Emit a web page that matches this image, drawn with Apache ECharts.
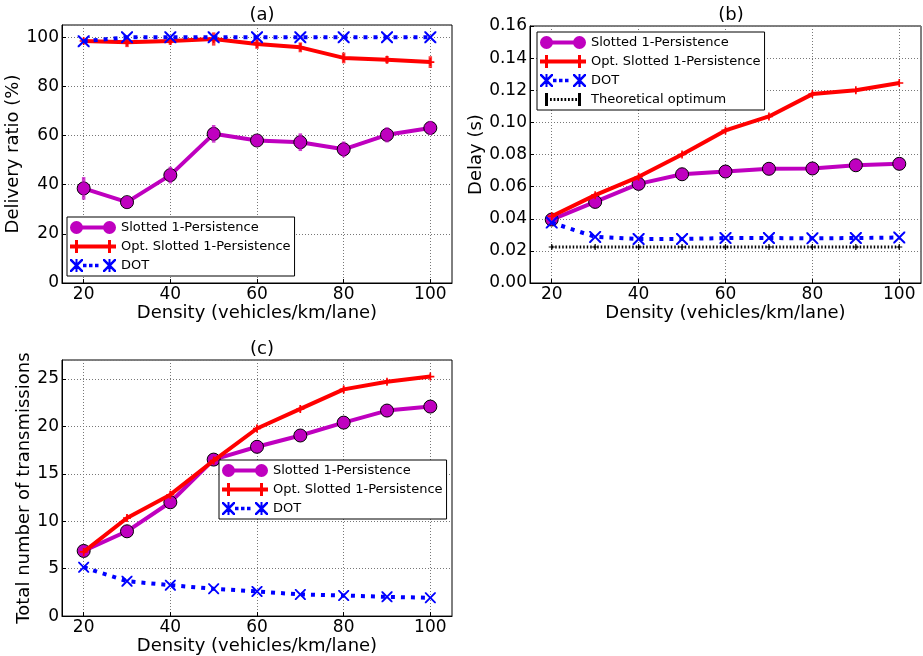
<!DOCTYPE html>
<html>
<head>
<meta charset="utf-8">
<script src="https://cdn.jsdelivr.net/npm/echarts@6/dist/echarts.min.js"></script>
<style>html,body{margin:0;padding:0;background:#fff}#c{width:923px;height:656px}</style>
</head>
<body>
<div id="c"></div>
<script>
// ---------------- data ----------------
const density = [20, 30, 40, 50, 60, 70, 80, 90, 100];
const xTicks = [20, 40, 60, 80, 100];
const seriesNames = ['Slotted 1-Persistence', 'Opt. Slotted 1-Persistence', 'DOT', 'Theoretical optimum'];
const panelTitles = ['(a)', '(b)', '(c)'];
const xName = 'Density (vehicles/km/lane)';
const yNames = ['Delivery ratio (%)', 'Delay (s)', 'Total number of transmissions'];

const deliverySlotted = [38.5, 32.9, 43.9, 60.7, 58.0, 57.3, 54.4, 60.3, 63.1];
const deliverySlottedErr = [4.6, 2.5, 3.4, 3.6, 2.5, 3.6, 3.2, 3.1, 2.9];
const deliveryOpt = [98.5, 98.0, 98.5, 99.3, 97.3, 95.9, 91.6, 90.9, 89.9];
const deliveryOptErr = [1.0, 2.0, 1.5, 2.7, 2.0, 2.0, 2.2, 1.5, 2.4];
const deliveryDot = [98.4, 100, 100, 100, 100, 100, 100, 100, 100];

const delaySlotted = [0.0395, 0.0505, 0.0617, 0.0677, 0.0694, 0.0711, 0.0713, 0.0733, 0.0742];
const delayOpt = [0.0416, 0.0547, 0.0661, 0.0800, 0.0950, 0.1037, 0.1176, 0.1200, 0.1245];
const delayOptErr = [0.0015, 0.0015, 0.0015, 0.0015, 0.0015, 0.0015, 0.0015, 0.0015, 0.0015];
const delayDot = [0.0376, 0.0287, 0.0274, 0.0274, 0.0280, 0.0280, 0.0278, 0.0280, 0.0283];
const delayTheory = [0.0224, 0.0224, 0.0224, 0.0224, 0.0224, 0.0224, 0.0224, 0.0224, 0.0224];

const txSlotted = [6.87, 8.94, 12.0, 16.5, 17.85, 19.04, 20.4, 21.67, 22.09];
const txOpt = [6.77, 10.34, 12.8, 16.4, 19.78, 21.84, 23.9, 24.7, 25.25];
const txOptErr = [0.3, 0.4, 0.4, 0.4, 0.4, 0.4, 0.4, 0.3, 0.3];
const txDot = [5.15, 3.68, 3.26, 2.88, 2.6, 2.28, 2.17, 2.03, 1.93];

// ---------------- styles ----------------
const FONT = 'DejaVu Sans';
const MAG = '#bf00bf', RED = '#ff0000', BLUE = '#0000ff', BLACK = '#000000';

function xPoly(ox, s, t) {
  const h = s / 2;
  const p = [[ox,0],[ox+t,0],[ox+h,h-t],[ox+s-t,0],[ox+s,0],[ox+s,t],[ox+h+t,h],[ox+s,s-t],[ox+s,s],[ox+s-t,s],[ox+h,h+t],[ox+t,s],[ox,s],[ox,s-t],[ox+h-t,h],[ox,t]];
  return 'M' + p.map(q => q[0].toFixed(2) + ',' + q[1].toFixed(2)).join(' L') + ' Z';
}
const X_SYMBOL = 'path://' + xPoly(0, 10, 1.2);
const PLUS_SYMBOL = 'path://M4,0 L6,0 L6,4 L10,4 L10,6 L6,6 L6,10 L4,10 L4,6 L0,6 L0,4 L4,4 Z';

const ICON_SLOTTED = 'path://M0,6.5 A6.5,6.5 0 1,1 13,6.5 A6.5,6.5 0 1,1 0,6.5 Z M33,6.5 A6.5,6.5 0 1,1 46,6.5 A6.5,6.5 0 1,1 33,6.5 Z M6.5,4.5 L39.5,4.5 L39.5,8.5 L6.5,8.5 Z';
const ICON_OPT = 'path://M0,4.5 L5,4.5 L5,0 L8,0 L8,4.5 L38,4.5 L38,0 L41,0 L41,4.5 L46,4.5 L46,8.5 L41,8.5 L41,13 L38,13 L38,8.5 L8,8.5 L8,13 L5,13 L5,8.5 L0,8.5 Z';
function dotsPath(x0, x1, w, gap, y0, y1) {
  let s = '';
  for (let x = x0; x + w <= x1; x += w + gap) s += ' M' + x + ',' + y0 + ' L' + (x + w) + ',' + y0 + ' L' + (x + w) + ',' + y1 + ' L' + x + ',' + y1 + ' Z';
  return s;
}
const ICON_DOT = 'path://' + xPoly(0, 13, 1.8) + ' ' + xPoly(33, 13, 1.8) + ' M5.5,0 L7.5,0 L7.5,13 L5.5,13 Z M38.5,0 L40.5,0 L40.5,13 L38.5,13 Z' + dotsPath(13, 33, 3.5, 2.5, 4.8, 8.2);
const ICON_THEORY = 'path://M5,0 L8,0 L8,13 L5,13 Z M38,0 L41,0 L41,13 L38,13 Z' + dotsPath(10, 37, 1.8, 1.8, 5, 8);

const grids = [
  { left: 62, top: 25, width: 390, height: 258 },
  { left: 530, top: 26, width: 391, height: 257 },
  { left: 62, top: 360, width: 390, height: 257 }
];

function pairs(ys) { return density.map((x, i) => [x, ys[i]]); }
function errData(ys, es) { return density.map((x, i) => [x, ys[i] - es[i], ys[i] + es[i]]); }

function errSeries(idx, ys, es, color, width, opacity) {
  return {
    type: 'custom', name: 'err', xAxisIndex: idx, yAxisIndex: idx, silent: true,
    encode: { x: 0, y: [1, 2] },
    data: errData(ys, es),
    renderItem: function (params, api) {
      const a = api.coord([api.value(0), api.value(1)]);
      const b = api.coord([api.value(0), api.value(2)]);
      return { type: 'line', shape: { x1: a[0], y1: a[1], x2: b[0], y2: b[1] },
        style: { stroke: color, lineWidth: width, opacity: opacity } };
    },
    z: 3
  };
}
function slotted(idx, ys) {
  return { type: 'line', name: seriesNames[0], xAxisIndex: idx, yAxisIndex: idx, data: pairs(ys),
    symbol: 'circle', symbolSize: 13, showAllSymbol: true,
    lineStyle: { color: MAG, width: 4 }, itemStyle: { color: MAG, borderColor: BLACK, borderWidth: 1 },
    z: 2, animation: false };
}
function opt(idx, ys) {
  return { type: 'line', name: seriesNames[1], xAxisIndex: idx, yAxisIndex: idx, data: pairs(ys),
    symbol: PLUS_SYMBOL, symbolSize: 8,
    lineStyle: { color: RED, width: 4 }, itemStyle: { color: RED },
    z: 4, animation: false };
}
function dot(idx, ys, size) {
  return { type: 'line', name: seriesNames[2], xAxisIndex: idx, yAxisIndex: idx, data: pairs(ys),
    symbol: X_SYMBOL, symbolSize: size,
    lineStyle: { color: BLUE, width: 4, type: [4, 6], cap: 'butt' }, itemStyle: { color: BLUE },
    z: 5, animation: false };
}
function theory(idx, ys) {
  return { type: 'line', name: seriesNames[3], xAxisIndex: idx, yAxisIndex: idx, data: pairs(ys),
    symbol: PLUS_SYMBOL, symbolSize: 6,
    lineStyle: { color: BLACK, width: 3, type: [1.5, 2], cap: 'butt' }, itemStyle: { color: BLACK },
    z: 6, animation: false };
}

function xAxis(idx) {
  return {
    type: 'value', gridIndex: idx, min: 15, max: 105,
    name: xName, nameLocation: 'middle', nameGap: 16,
    nameTextStyle: { fontFamily: FONT, fontSize: 18, color: BLACK },
    axisLine: { show: true, onZero: false, lineStyle: { color: BLACK, width: 1 } },
    axisTick: { show: true, inside: true, length: 4, customValues: xTicks, lineStyle: { color: BLACK } },
    axisLabel: { customValues: xTicks, margin: 3, fontFamily: FONT, fontSize: 17, color: BLACK },
    splitLine: { show: true, lineStyle: { color: '#777', width: 1, type: [1, 2] } }
  };
}
function yAxis(idx, max, interval, gap, showMax, fmt) {
  return {
    type: 'value', gridIndex: idx, min: 0, max: max, interval: interval,
    name: yNames[idx], nameLocation: 'middle', nameGap: gap,
    nameTextStyle: { fontFamily: FONT, fontSize: 18, color: BLACK },
    axisLine: { show: true, lineStyle: { color: BLACK, width: 1 } },
    axisTick: { show: true, inside: true, length: 4, lineStyle: { color: BLACK } },
    axisLabel: { margin: 3, fontFamily: FONT, fontSize: 17, color: BLACK, showMaxLabel: showMax,
      formatter: fmt || (v => String(Math.round(v))) },
    splitLine: { show: true, lineStyle: { color: '#777', width: 1, type: [1, 2] } }
  };
}
function legend(left, top, names, icons) {
  return {
    orient: 'vertical', left: left, top: top,
    data: names.map((n, i) => ({ name: n, icon: icons[i] })),
    itemWidth: 46, itemHeight: 13, itemGap: 6, itemTextGap: 8,
    padding: [4, 4, 4, 3],
    borderColor: BLACK, borderWidth: 1, borderRadius: 0, backgroundColor: '#fff',
    itemStyle: { borderWidth: 0 },
    textStyle: { fontFamily: FONT, fontSize: 13, color: BLACK },
    selectedMode: false
  };
}

const icons3 = [ICON_SLOTTED, ICON_OPT, ICON_DOT];
const titleStyle = { fontFamily: FONT, fontSize: 18, fontWeight: 'normal', color: BLACK };
const option = {
  animation: false,
  backgroundColor: '#fff',
  title: [
    { text: panelTitles[0], left: 257, top: 1, textAlign: 'center', textStyle: titleStyle },
    { text: panelTitles[1], left: 726, top: 1, textAlign: 'center', textStyle: titleStyle },
    { text: panelTitles[2], left: 257, top: 335, textAlign: 'center', textStyle: titleStyle }
  ],
  grid: grids.map(g => Object.assign({ show: true, borderColor: BLACK, borderWidth: 1, backgroundColor: 'transparent', containLabel: false }, g)),
  legend: [
    legend(67, 217, seriesNames.slice(0, 3), icons3),
    legend(537, 32, seriesNames, [ICON_SLOTTED, ICON_OPT, ICON_DOT, ICON_THEORY]),
    legend(219, 460, seriesNames.slice(0, 3), icons3)
  ],
  xAxis: [xAxis(0), xAxis(1), xAxis(2)],
  yAxis: [
    yAxis(0, 105, 20, 38, false),
    yAxis(1, 0.16, 0.02, 43, true, v => v.toFixed(2)),
    yAxis(2, 27, 5, 19, false)
  ],
  series: [
    slotted(0, deliverySlotted),
    errSeries(0, deliverySlotted, deliverySlottedErr, MAG, 3.5, 0.75),
    opt(0, deliveryOpt),
    errSeries(0, deliveryOpt, deliveryOptErr, RED, 3.5, 0.75),
    dot(0, deliveryDot, 12),

    slotted(1, delaySlotted),
    opt(1, delayOpt),
    errSeries(1, delayOpt, delayOptErr, RED, 1.5, 0.8),
    dot(1, delayDot, 12),
    theory(1, delayTheory),

    slotted(2, txSlotted),
    opt(2, txOpt),
    errSeries(2, txOpt, txOptErr, RED, 1.5, 0.8),
    dot(2, txDot, 11)
  ]
};

const chart = echarts.init(document.getElementById('c'), null, { renderer: 'canvas' });
chart.setOption(option);
</script>
</body>
</html>
